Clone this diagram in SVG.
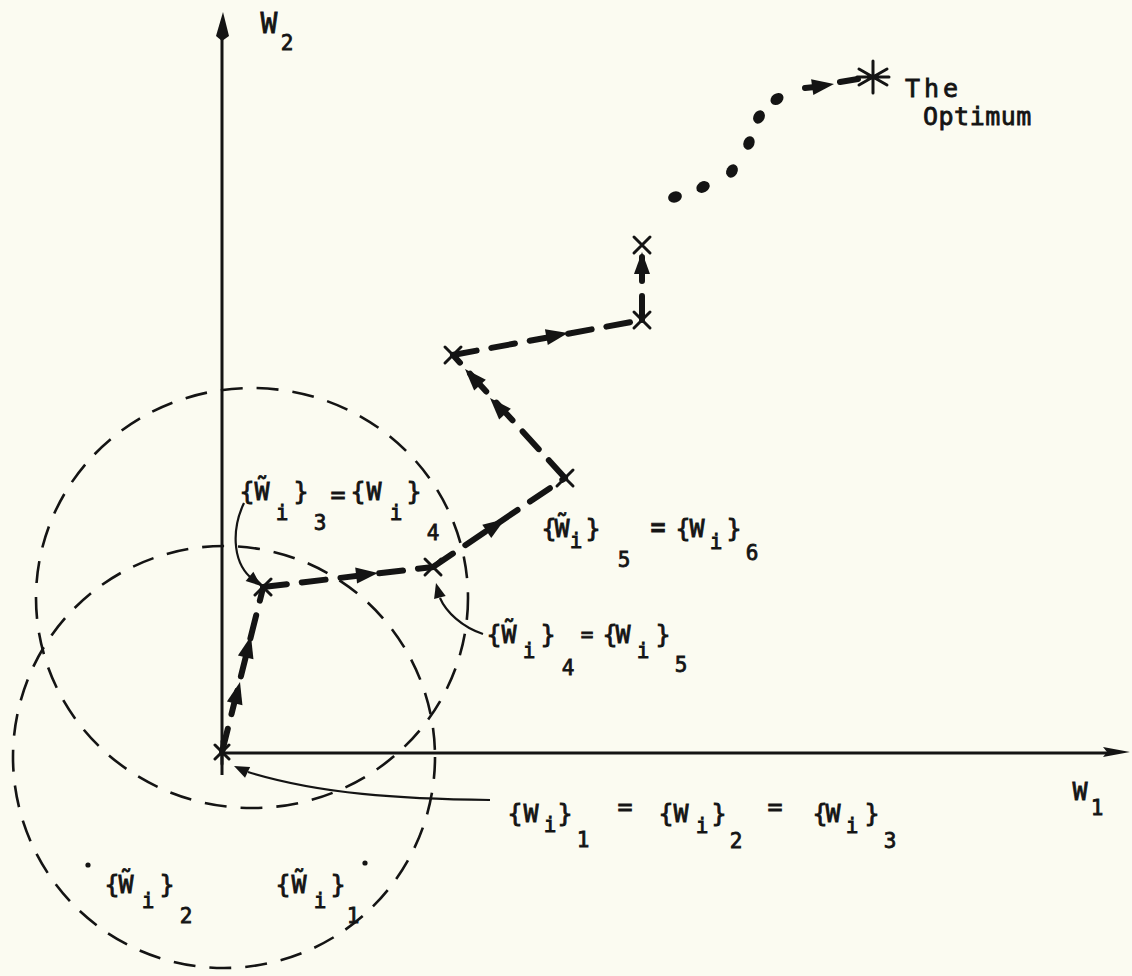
<svg xmlns="http://www.w3.org/2000/svg" width="1132" height="976" viewBox="0 0 1132 976">
<defs>
<style>
.bg{fill:#fbfbf1}
.ink{fill:#141414}
.axis{stroke:#141414;stroke-width:3;fill:none}
.circ{stroke:#141414;stroke-width:2.6;fill:none;stroke-dasharray:22 14}
.step{stroke:#141414;stroke-width:6;fill:none;stroke-dasharray:24 15;stroke-linecap:round}
.thin{stroke:#141414;stroke-width:2.2;fill:none}
.mark{stroke:#141414;stroke-width:3;fill:none;stroke-linecap:round}
text{font-family:"DejaVu Sans Mono","Liberation Mono",monospace;fill:#141414;stroke:#141414;stroke-width:0.8px;text-anchor:middle}
.m{font-size:25px}
.s{font-size:21px}
.l{font-size:28px}
</style>
<path id="ah" class="ink" d="M0,0 L-22,-8 L-22,8 Z"/>
<path id="ahs" class="ink" d="M0,0 L-15,-6 L-15,6 Z"/>
<path id="x" d="M-8,-8 L8,8 M8,-8 L-8,8"/>
<ellipse id="dot" class="ink" cx="0" cy="0" rx="7" ry="5.5"/>
</defs>
<rect class="bg" x="0" y="0" width="1132" height="976"/>

<g id="axis-w2">
<line class="axis" x1="222" y1="36" x2="222" y2="775"/>
<polygon class="ink" points="223,12 216,36 222,41 229,36"/>
<text class="l" x="269" y="33">W</text>
<text class="s" x="287" y="50">2</text>
</g>

<g id="axis-w1">
<line class="axis" x1="222" y1="753" x2="1108" y2="753"/>
<polygon class="ink" points="1130,752 1103,747 1107,752 1103,757"/>
<text class="m" x="1080" y="800">W</text>
<text class="s" x="1097" y="815">1</text>
</g>

<g id="circle-upper">
<ellipse class="circ" cx="252" cy="598" rx="216" ry="210"/>
</g>
<g id="circle-lower">
<circle class="circ" cx="224" cy="757" r="211"/>
</g>

<g id="connectors">
<line class="step" x1="222" y1="752" x2="263" y2="588"/>
<line class="step" x1="263" y1="587" x2="433" y2="567"/>
<line class="step" x1="433" y1="567" x2="565" y2="478"/>
<line class="step" x1="565" y1="478" x2="453" y2="355"/>
<line class="step" x1="453" y1="355" x2="642" y2="320"/>
<line class="step" x1="642" y1="320" x2="642" y2="250"/>
<use href="#ah" transform="translate(240,682) rotate(-76)"/>
<use href="#ah" transform="translate(251,636) rotate(-76)"/>
<use href="#ah" transform="translate(378,573) rotate(-6.7)"/>
<use href="#ah" transform="translate(505,519) rotate(-34)"/>
<use href="#ah" transform="translate(490,398) rotate(-133)"/>
<use href="#ah" transform="translate(465,369) rotate(-133)"/>
<use href="#ah" transform="translate(568,333) rotate(-10.5)"/>
<use href="#ah" transform="translate(642,252) rotate(-90)"/>
<use href="#dot" transform="translate(675,197) rotate(-18)"/>
<use href="#dot" transform="translate(703,187) rotate(-29)"/>
<use href="#dot" transform="translate(732,171) rotate(-60)"/>
<use href="#dot" transform="translate(749,143) rotate(-69)"/>
<use href="#dot" transform="translate(759,117) rotate(-60)"/>
<use href="#dot" transform="translate(777,99) rotate(-35)"/>
<line class="step" x1="805" y1="88" x2="815" y2="87" stroke-dasharray="none"/>
<use href="#ah" transform="translate(834,84) rotate(-8)"/>
<line class="step" x1="840" y1="82" x2="858" y2="79" stroke-dasharray="none"/>
<path class="thin" d="M244,503 C232,528 232,560 250,577"/>
<use href="#ahs" transform="translate(261,586) rotate(40)"/>
<path class="thin" d="M483,634 C462,627 446,612 440,598"/>
<use href="#ahs" transform="translate(436,583) rotate(-105)"/>
<path class="thin" d="M490,800 C400,799 320,794 248,772"/>
<use href="#ahs" transform="translate(234,766) rotate(-155)"/>
</g>

<g id="point-origin">
<path class="mark" d="M215,745 L229,759 M229,745 L215,759 M222,741 L222,764"/>
</g>
<g id="point-2"><use href="#x" class="mark" transform="translate(263,587)"/></g>
<g id="point-3"><use href="#x" class="mark" transform="translate(433,567)"/></g>
<g id="point-4"><use href="#x" class="mark" transform="translate(565,478)"/></g>
<g id="point-5"><use href="#x" class="mark" transform="translate(453,355)"/></g>
<g id="point-6"><use href="#x" class="mark" transform="translate(642,320)"/></g>
<g id="point-7"><use href="#x" class="mark" transform="translate(642,245)"/></g>

<g id="optimum">
<path class="mark" stroke-width="4" d="M873,61 L873,93 M859,69 L887,85 M887,69 L859,85 M857,77 L889,77"/>
<text class="m" x="905" y="97" style="text-anchor:start;letter-spacing:4px">The</text>
<text class="m" x="923" y="125" style="text-anchor:start;letter-spacing:0.5px">Optimum</text>
</g>

<g id="label-3-4">
<text class="m">
<tspan x="247" y="500">{</tspan><tspan x="262" y="500">W&#771;</tspan><tspan class="s" x="282" y="520">i</tspan><tspan x="301" y="500">}</tspan><tspan class="s" x="320" y="530">3</tspan><tspan x="338" y="503">=</tspan><tspan x="358" y="500">{</tspan><tspan x="374" y="500">W</tspan><tspan class="s" x="396" y="520">i</tspan><tspan x="414" y="500">}</tspan><tspan class="s" x="433" y="540">4</tspan>
</text>
</g>

<g id="label-4-5">
<text class="m">
<tspan x="494" y="643">{</tspan><tspan x="509" y="643">W&#771;</tspan><tspan class="s" x="529" y="658">i</tspan><tspan x="548" y="643">}</tspan><tspan class="s" x="568" y="675">4</tspan><tspan class="s" x="587" y="642">=</tspan><tspan x="610" y="643">{</tspan><tspan x="623" y="643">W</tspan><tspan class="s" x="643" y="658">i</tspan><tspan x="663" y="643">}</tspan><tspan class="s" x="681" y="672">5</tspan>
</text>
</g>

<g id="label-5-6">
<text class="m">
<tspan x="549" y="537">{</tspan><tspan x="562" y="537">W&#771;</tspan><tspan class="s" x="576" y="548">i</tspan><tspan x="593" y="537">}</tspan><tspan class="s" x="624" y="567">5</tspan><tspan x="658" y="536" font-weight="bold">=</tspan><tspan x="683" y="537">{</tspan><tspan x="697" y="537">W</tspan><tspan class="s" x="716" y="549">i</tspan><tspan x="734" y="537">}</tspan><tspan class="s" x="752" y="560">6</tspan>
</text>
</g>

<g id="label-1-2-3">
<text class="m">
<tspan x="515" y="822">{</tspan><tspan x="531" y="822">W</tspan><tspan class="s" x="550" y="832">i</tspan><tspan x="565" y="822">}</tspan><tspan class="s" x="583" y="847">1</tspan><tspan x="625" y="815">=</tspan><tspan x="666" y="822">{</tspan><tspan x="681" y="822">W</tspan><tspan class="s" x="702" y="833">i</tspan><tspan x="719" y="822">}</tspan><tspan class="s" x="736" y="848">2</tspan><tspan x="775" y="815">=</tspan><tspan x="820" y="822">{</tspan><tspan x="833" y="822">W</tspan><tspan class="s" x="852" y="833">i</tspan><tspan x="872" y="822">}</tspan><tspan class="s" x="890" y="848">3</tspan>
</text>
</g>

<g id="label-tilde-2">
<circle class="ink" cx="88" cy="865" r="2.6"/>
<text class="m">
<tspan x="112" y="893">{</tspan><tspan x="126" y="893">W&#771;</tspan><tspan class="s" x="148" y="908">i</tspan><tspan x="167" y="893">}</tspan><tspan class="s" x="186" y="923">2</tspan>
</text>
</g>

<g id="label-tilde-1">
<circle class="ink" cx="365" cy="863" r="2.6"/>
<text class="m">
<tspan x="283" y="893">{</tspan><tspan x="299" y="893">W&#771;</tspan><tspan class="s" x="320" y="908">i</tspan><tspan x="338" y="893">}</tspan><tspan class="s" x="353" y="923">1</tspan>
</text>
</g>
</svg>
